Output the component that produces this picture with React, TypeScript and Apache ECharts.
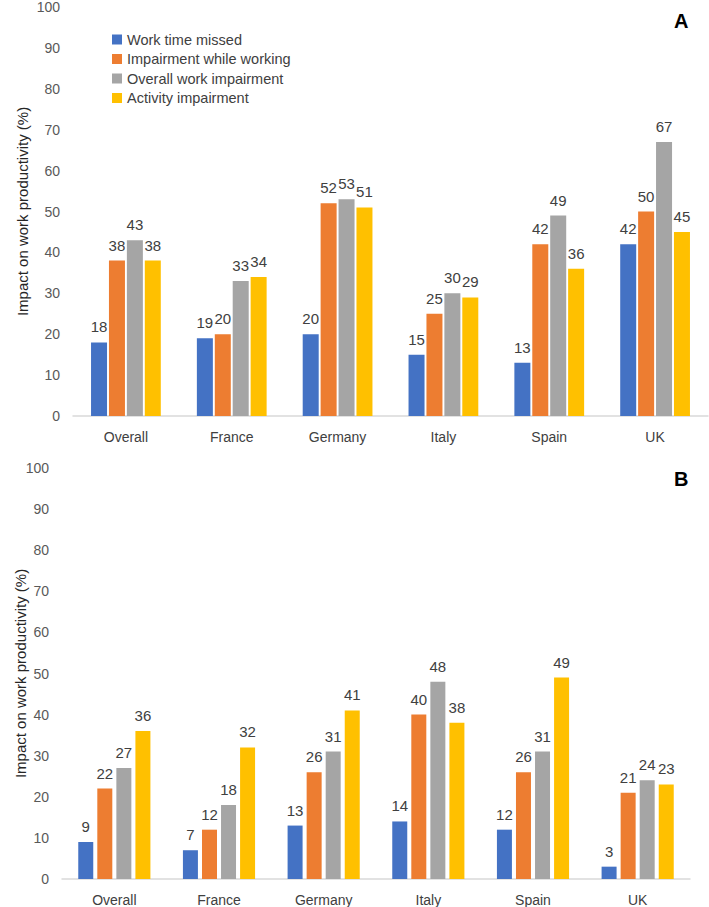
import React, { useEffect, useRef } from "react";
import * as echarts from "echarts";

const categories = ["Overall", "France", "Germany", "Italy", "Spain", "UK"];
const seriesNames = [
  "Work time missed",
  "Impairment while working",
  "Overall work impairment",
  "Activity impairment",
];
const colors = ["#4472C4", "#ED7D31", "#A5A5A5", "#FFC000"];

const aWorkTimeMissed = [18, 19, 20, 15, 13, 42];
const aImpairmentWhileWorking = [38, 20, 52, 25, 42, 50];
const aOverallWorkImpairment = [43, 33, 53, 30, 49, 67];
const aActivityImpairment = [38, 34, 51, 29, 36, 45];

const bWorkTimeMissed = [9, 7, 13, 14, 12, 3];
const bImpairmentWhileWorking = [22, 12, 26, 40, 26, 21];
const bOverallWorkImpairment = [27, 18, 31, 48, 31, 24];
const bActivityImpairment = [36, 32, 41, 38, 49, 23];

const panelA = [aWorkTimeMissed, aImpairmentWhileWorking, aOverallWorkImpairment, aActivityImpairment];
const panelB = [bWorkTimeMissed, bImpairmentWhileWorking, bOverallWorkImpairment, bActivityImpairment];

const FONT = "'Liberation Sans', Arial, sans-serif";
const yTitle = "Impact on work productivity (%)";

export default function App() {
  const ref = useRef<HTMLDivElement>(null);
  useEffect(() => {
    if (!ref.current) return;
    const chart = echarts.init(ref.current, undefined, { renderer: "svg" });

    const mkX = (gridIndex: number) => ({
      type: "category",
      gridIndex,
      data: categories,
      axisLine: { show: true, lineStyle: { color: "#D9D9D9", width: 1.5 } },
      axisTick: { show: false },
      axisLabel: { fontFamily: FONT, fontSize: 14, color: "#404040", margin: 14 },
    });
    const mkY = (gridIndex: number, nameGap: number) => ({
      type: "value",
      gridIndex,
      min: 0,
      max: 100,
      interval: 10,
      name: yTitle,
      nameLocation: "middle",
      nameRotate: 90,
      nameGap,
      nameMoveOverlap: false,
      nameTextStyle: { fontFamily: FONT, fontSize: 15, color: "#262626" },
      axisLine: { show: false },
      axisTick: { show: false },
      splitLine: { show: false },
      axisLabel: { fontFamily: FONT, fontSize: 14, color: "#595959", margin: 13 },
    });

    const mkLabel = () => ({
      show: true,
      position: "top",
      distance: 8,
      fontFamily: FONT,
      fontSize: 15,
      color: "#404040",
    });

    const series: any[] = [];
    panelA.forEach((vals, i) => {
      series.push({
        type: "bar",
        name: seriesNames[i],
        xAxisIndex: 0,
        yAxisIndex: 0,
        data: vals,
        barWidth: 16,
        barGap: "12%",
        itemStyle: { color: colors[i] },
        label: mkLabel(),
      });
    });
    panelB.forEach((vals, i) => {
      series.push({
        type: "bar",
        name: seriesNames[i],
        xAxisIndex: 1,
        yAxisIndex: 1,
        data: vals,
        barWidth: 15,
        barGap: "27%",
        itemStyle: { color: colors[i] },
        label: mkLabel(),
      });
    });

    chart.setOption({
      animation: false,
      backgroundColor: "#ffffff",
      legend: {
        orient: "vertical",
        left: 107,
        top: 27,
        itemWidth: 10,
        itemHeight: 10,
        itemGap: 4.5,
        icon: "rect",
        data: seriesNames,
        textStyle: { fontFamily: FONT, fontSize: 14.5, color: "#404040", lineHeight: 15 },
      },
      grid: [
        { left: 73, top: 6, width: 635, height: 410 },
        { left: 62, top: 468, width: 628, height: 411 },
      ],
      xAxis: [mkX(0), mkX(1)],
      yAxis: [mkY(0, 43), mkY(1, 34)],
      graphic: [
        {
          type: "text",
          left: 674,
          top: 11,
          style: { text: "A", fontFamily: FONT, fontSize: 20, fontWeight: "bold", fill: "#000" },
        },
        {
          type: "text",
          left: 674,
          top: 469,
          style: { text: "B", fontFamily: FONT, fontSize: 20, fontWeight: "bold", fill: "#000" },
        },
      ],
      series,
    });
    return () => chart.dispose();
  }, []);
  return (
    <div
      ref={ref}
      style={{ position: "absolute", left: 0, top: 0, width: 709, height: 907 }}
    />
  );
}
